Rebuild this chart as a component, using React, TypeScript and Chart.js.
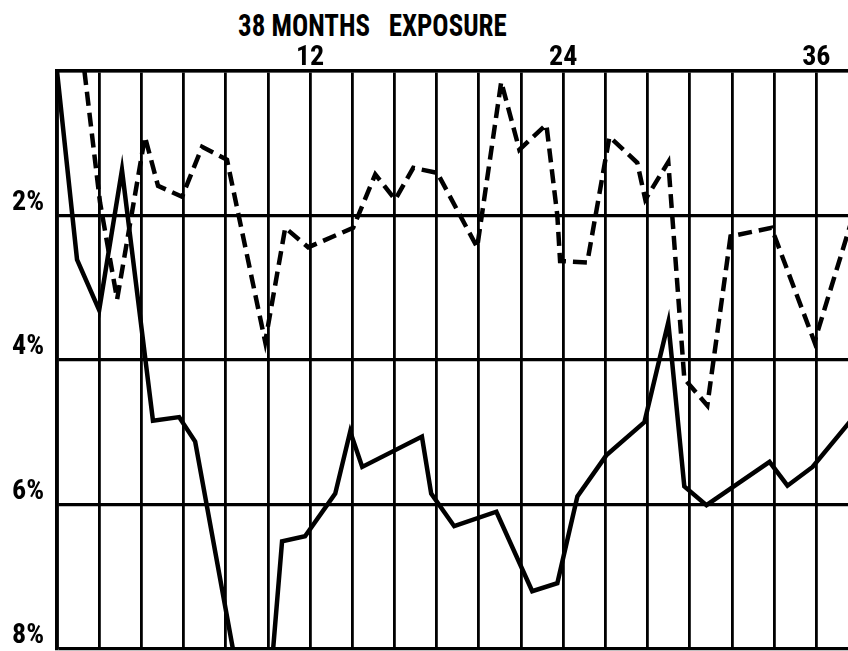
import React, { useEffect, useRef } from "react";
import { Chart, registerables } from "chart.js";

Chart.register(...registerables);

const titleText = "38 MONTHS   EXPOSURE";
const xTickLabels = [12, 24, 36];
const yTickLabels = [2, 4, 6, 8];

// months of exposure, percent (solid line)
const solidMonths = [0, 0.95, 2.0, 3.08, 4.55, 5.79, 6.55, 9.65, 10.67, 11.76, 13.19, 13.9, 14.47, 17.3, 17.74, 18.83, 20.83, 22.53, 23.72, 24.67, 26.04, 27.85, 28.98, 29.74, 30.79, 33.78, 34.63, 35.82, 37.6];
const solidValues = [0, 2.61, 3.31, 1.37, 4.84, 4.79, 5.13, 10.1, 6.51, 6.44, 5.85, 4.99, 5.48, 5.06, 5.85, 6.3, 6.1, 7.2, 7.09, 5.89, 5.32, 4.86, 3.48, 5.75, 6.01, 5.41, 5.74, 5.48, 4.85];

// months of exposure, percent (dashed line)
const dashedMonths = [1.3, 2.04, 2.85, 4.17, 4.79, 5.93, 6.88, 8.06, 9.87, 10.82, 11.91, 14.04, 15.09, 16.03, 16.89, 18.03, 19.92, 21.06, 21.92, 23.2, 23.72, 23.85, 25.14, 26.19, 27.51, 27.89, 28.98, 29.74, 30.83, 31.93, 33.87, 35.91, 37.6];
const dashedValues = [0, 1.82, 3.16, 0.91, 1.59, 1.74, 1.05, 1.23, 3.75, 2.17, 2.44, 2.17, 1.43, 1.78, 1.34, 1.41, 2.44, 0.15, 1.09, 0.74, 2.0, 2.63, 2.65, 0.91, 1.27, 1.78, 1.26, 4.26, 4.63, 2.29, 2.17, 3.75, 2.14];

const FONT = '"Roboto Condensed", "Liberation Sans Narrow", "DejaVu Sans Condensed", sans-serif';

export default function App() {
  const ref = useRef<HTMLCanvasElement>(null);

  useEffect(() => {
    document.body.style.margin = "0";
    const canvas = ref.current;
    if (!canvas) return;
    const zeroPad = (s: any) => {
      s.paddingTop = 0;
      s.paddingBottom = 0;
      s.paddingLeft = 0;
      s.paddingRight = 0;
    };
    const chart = new Chart(canvas, {
      type: "line",
      data: {
        datasets: [
          {
            data: solidMonths.map((m, i) => ({ x: m, y: solidValues[i] })),
            borderColor: "#000",
            borderWidth: 4.5,
            pointRadius: 0,
            tension: 0,
            fill: false,
          },
          {
            data: dashedMonths.map((m, i) => ({ x: m, y: dashedValues[i] })),
            borderColor: "#000",
            borderWidth: 4.5,
            borderDash: [14, 7],
            pointRadius: 0,
            tension: 0,
            fill: false,
          },
        ],
      },
      options: {
        animation: false,
        responsive: false,
        devicePixelRatio: 1,
        layout: { padding: { left: 12, right: 0, top: 0, bottom: 2 } },
        plugins: { legend: { display: false }, tooltip: { enabled: false }, title: { display: false } },
        scales: {
          x: {
            type: "linear",
            position: "top",
            min: 0,
            max: 37.5,
            afterFit: (s: any) => { s.height = 71; zeroPad(s); },
            ticks: {
              stepSize: 2,
              includeBounds: false,
              maxRotation: 0,
              autoSkip: false,
              padding: -4,
              color: "#000",
              font: { family: FONT, size: 28, weight: "bold" },
              callback: (v: any) => (xTickLabels.includes(Number(v)) ? String(v) : ""),
            },
            grid: { color: "#000", lineWidth: 2.8, drawTicks: false },
            border: { display: true, color: "#000", width: 3.5 },
          },
          y: {
            type: "linear",
            reverse: true,
            min: 0,
            max: 8,
            afterFit: (s: any) => { s.width = 45; zeroPad(s); },
            ticks: {
              stepSize: 2,
              crossAlign: "far",
              labelOffset: -13,
              padding: 0,
              color: "#000",
              font: { family: FONT, size: 28, weight: "bold" },
              callback: (v: any) => (yTickLabels.includes(Number(v)) ? v + "%" : ""),
            },
            grid: { color: "#000", lineWidth: 3.2, drawTicks: false },
            border: { display: true, color: "#000", width: 3.5 },
          },
        },
      },
    });
    return () => chart.destroy();
  }, []);

  return (
    <div style={{ position: "fixed", left: 0, top: 0, width: 848, height: 651, background: "#fff" }}>
      <div
        style={{
          position: "absolute",
          left: 238,
          top: 10,
          fontFamily: FONT,
          fontWeight: "bold",
          fontSize: 31,
          lineHeight: "31px",
          whiteSpace: "pre",
          color: "#000",
          transform: "scaleX(0.87)",
          transformOrigin: "left top",
        }}
      >
        {titleText}
      </div>
      <canvas ref={ref} width={848} height={651} style={{ position: "absolute", left: 0, top: 0 }} />
    </div>
  );
}
